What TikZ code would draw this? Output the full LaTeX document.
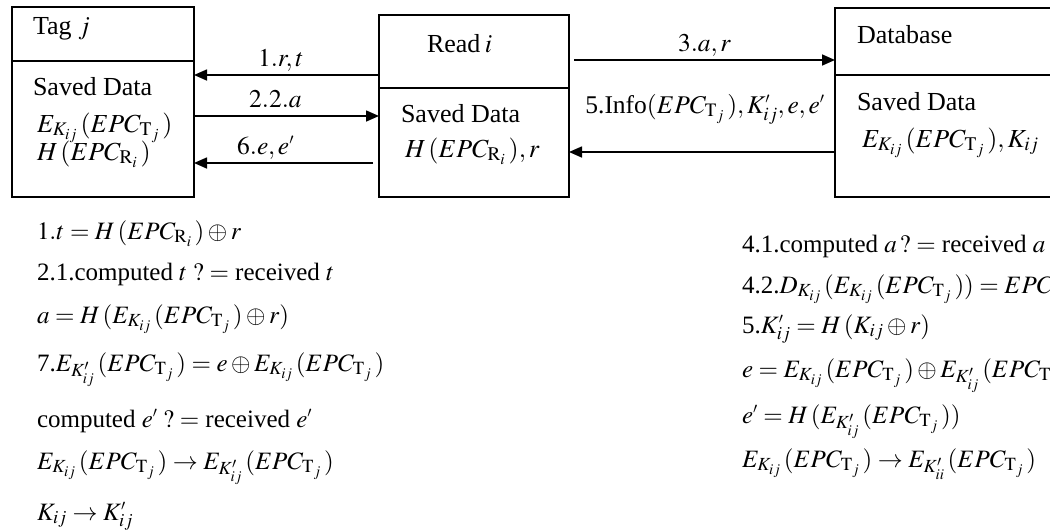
\documentclass[tikz,border=0pt]{standalone}
\usepackage{mathptmx}
\usepackage{fontspec}
\setmainfont{Liberation Serif}
\usetikzlibrary{arrows.meta}
\newcommand\EPCT{EPC_{\mathrm{T}_j}\,}
\newcommand\EPCR{EPC_{\mathrm{R}_i}\,}
\newcommand\Kij{K_{ij}}
\newcommand\Kp{K_{ij}^{\scriptscriptstyle\prime}}
\newcommand\pr{^{\scriptscriptstyle\prime}}
\begin{document}
\begin{tikzpicture}[x=1pt,y=-1pt,
  every node/.style={inner sep=0pt,outer sep=0pt},
  txt/.style={anchor=base west,font=\fontsize{26}{30}\selectfont},
  eq/.style={anchor=base west,font=\fontsize{25}{30}\selectfont},
  box/.style={draw,line width=1.2pt,minimum width=#1},
  arr/.style={line width=1.6pt,-{Triangle[length=13pt,width=11pt]}},
  lab/.style={font=\fontsize{25.5}{30}\selectfont,anchor=base}]
\useasboundingbox (0,0) rectangle (1050,531);
% boxes
\node[box=182pt,minimum height=190pt] (tag) at (103,102) {};
\node[box=190pt,minimum height=182pt] (reader) at (474,106) {};
\node[box=250pt,minimum height=189pt] (db) at (960,102.5) {};
\draw[line width=1.2pt] (tag.west |- 0,61) -- (tag.east |- 0,61);
\draw[line width=1.2pt] (reader.west |- 0,88) -- (reader.east |- 0,88);
\draw[line width=1.2pt] (db.west |- 0,75) -- (db.east |- 0,75);
% box texts
\node[txt] (t1) at (33,34) {Tag $j$};
\node[txt] (t2) at (33,95) {Saved Data};
\node[txt] (t3) at (37,132) {$E_{\Kij}\,(\EPCT)$};
\node[txt] (t4) at (37,160) {$H\,(\EPCR)$};
\node[txt] (r1) at (427,52) {Read\,$i$};
\node[txt] (r2) at (401,122) {Saved Data};
\node[txt] (r3) at (405,157) {$H\,(\EPCR),r$};
\node[txt] (d1) at (857,43) {Database};
\node[txt] (d2) at (857,110) {Saved Data};
\node[txt] (d3) at (862,147) {$E_{\Kij}\,(\EPCT),K_{ij}$};
% connectors
\draw[arr] (reader.west |- 0,75) -- node[lab,pos=0.53,yshift=9pt] {$1.r,t$} (tag.east |- 0,75);
\draw[arr] (tag.east |- 0,116) -- node[lab,pos=0.44,yshift=9pt] {$2.2.a$} (reader.west |- 0,116);
\draw[arr] ([xshift=-6pt]reader.west |- 0,163) -- node[lab,pos=0.6,yshift=9pt] {$6.e,e\pr$} (tag.east |- 0,163);
\draw[arr] ([xshift=5pt]reader.east |- 0,60) -- node[lab,pos=0.5,yshift=9pt] {$3.a,r$} (db.west |- 0,60);
\draw[arr] (db.west |- 0,152) -- node[lab,pos=0.5,xshift=3pt,yshift=39pt] {5.Info$(\EPCT),\Kp,e,e\pr$} (reader.east |- 0,152);
% left equations
\node[eq] (l1) at (37,239) {$1.t=H\,(\EPCR)\oplus r$};
\node[eq] (l2) at (37,280) {2.1.computed $t\;?=$ received $t$};
\node[eq] (l3) at (37,323) {$a=H\,(E_{\Kij}\,(\EPCT)\oplus r)$};
\node[eq] (l4) at (37,371) {7.$E_{\Kp}\,(\EPCT)=e\oplus E_{\Kij}\,(\EPCT)$};
\node[eq] (l5) at (37,427) {computed $e\pr\;?=$ received $e\pr$};
\node[eq] (l6) at (37,469) {$E_{\Kij}\,(\EPCT)\rightarrow E_{\Kp}\,(\EPCT)$};
\node[eq] (l7) at (37,520) {$K_{ij}\rightarrow \Kp$};
% right equations
\node[eq] (q1) at (742,252) {4.1.computed $a\,?=$ received $a$};
\node[eq] (q2) at (742,293) {4.2.$D_{\Kij}\,(E_{\Kij}\,(\EPCT))=EPC_{\mathrm{T}_j}$};
\node[eq] (q3) at (742,333) {5.$\Kp=H\,(K_{ij}\oplus r)$};
\node[eq] (q4) at (742,377) {$e=E_{\Kij}\,(\EPCT)\oplus E_{\Kp}\,(\EPCT)$};
\node[eq] (q5) at (742,423) {$e\pr=H\,(E_{\Kp}\,(\EPCT))$};
\node[eq] (q6) at (742,467) {$E_{\Kij}\,(\EPCT)\rightarrow E_{K_{ii}^{\scriptscriptstyle\prime}}\,(\EPCT)$};
\end{tikzpicture}
\end{document}
